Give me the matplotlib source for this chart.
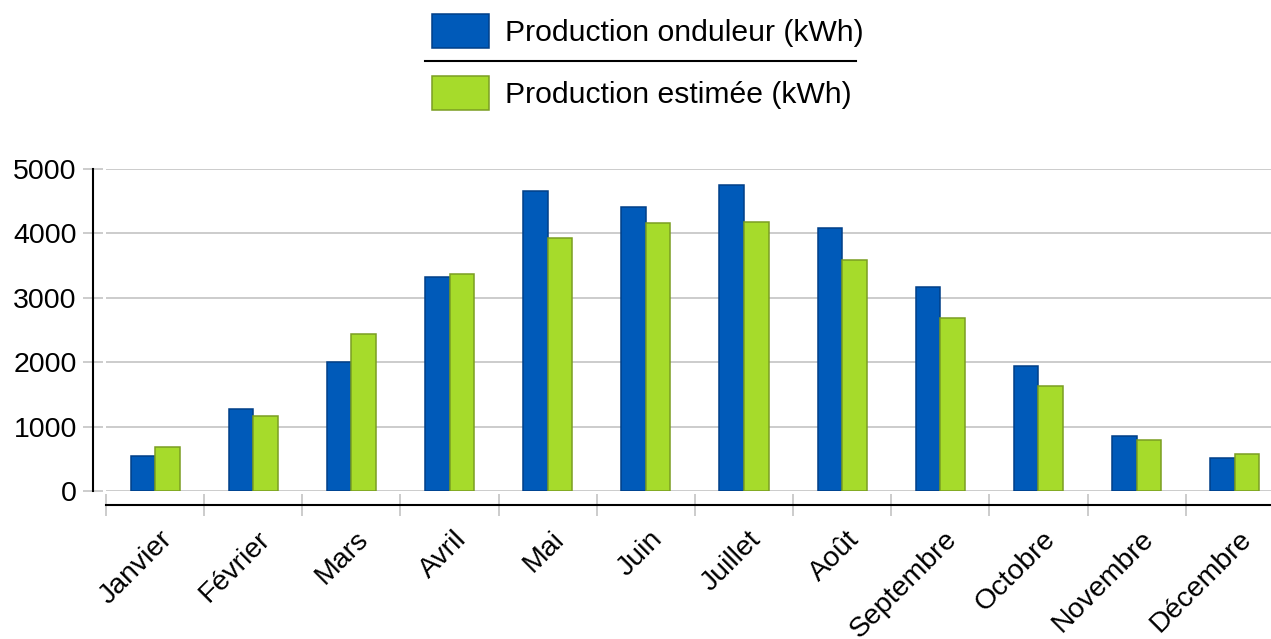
import numpy as np
import matplotlib.pyplot as plt
from matplotlib.lines import Line2D
from matplotlib.transforms import ScaledTranslation

mois = ['Janvier', 'Février', 'Mars', 'Avril', 'Mai', 'Juin', 'Juillet',
        'Août', 'Septembre', 'Octobre', 'Novembre', 'Décembre']
onduleur = [550, 1270, 2009, 3320, 4655, 4407, 4748, 4090, 3165, 1947, 860, 519]
estimee = [680, 1171, 2444, 3376, 3935, 4158, 4183, 3593, 2693, 1632, 793, 581]

plt.rcParams['font.family'] = ['Liberation Sans', 'DejaVu Sans']

W, H = 1271, 639
fig = plt.figure(figsize=(W / 100, H / 100), dpi=100)
ax = fig.add_axes([106 / W, (H - 491) / H, (W - 106) / W, (491 - 169) / H])

x = np.arange(len(mois))
w = 0.25
b1 = ax.bar(x - w / 2, onduleur, w, color='#005AB9', edgecolor='#003F88',
            linewidth=1.1, label='Production onduleur (kWh)', zorder=3)
b2 = ax.bar(x + w / 2, estimee, w, color='#A6DB2B', edgecolor='#7A9E22',
            linewidth=1.1, label='Production estimée (kWh)', zorder=3)

ax.set_yticks([0, 1000, 2000, 3000, 4000, 5000])
ax.yaxis.grid(True, color='#c3c3c3', linewidth=1.2, zorder=0)

for s in ['top', 'right']:
    ax.spines[s].set_visible(False)
ax.spines['left'].set_position(('outward', 9.5))
ax.spines['bottom'].set_position(('outward', 10))
ax.spines['left'].set_linewidth(1.5)
ax.spines['bottom'].set_linewidth(1.5)

ax.tick_params(axis='y', direction='inout', length=15, width=1.2,
               color='#c3c3c3', labelsize=20.5, pad=4)

# separateurs des categories
ax.set_xticks(np.arange(-0.5, 11, 1), minor=True)
ax.tick_params(axis='x', which='minor', direction='inout', length=16,
               width=1.2, color='#c3c3c3')
ax.set_xticks(x)
ax.set_xticklabels(mois, rotation=45, ha='right', va='center',
                   rotation_mode='anchor')
ax.tick_params(axis='x', which='major', length=0, labelsize=20.5, pad=22)
for lab in ax.get_xticklabels():
    lab.set_transform(lab.get_transform() +
                      ScaledTranslation(0.13, 0, fig.dpi_scale_trans))

ax.set_ylim(0, 5000)
ax.set_xlim(-0.5, -0.5 + 1165 / 98.15)

leg = fig.legend(handles=[b1, b2], loc='upper left',
                 bbox_to_anchor=(432 / W, 1 - 14 / H), frameon=False,
                 fontsize=21.7, handlelength=1.9, handleheight=1.38,
                 labelspacing=0.9, handletextpad=0.53, borderpad=0,
                 borderaxespad=0)

fig.add_artist(Line2D([425 / W, 856 / W], [1 - 61 / H, 1 - 61 / H],
                      transform=fig.transFigure, color='black', linewidth=1.5))

fig.savefig('out.png', dpi=100)
